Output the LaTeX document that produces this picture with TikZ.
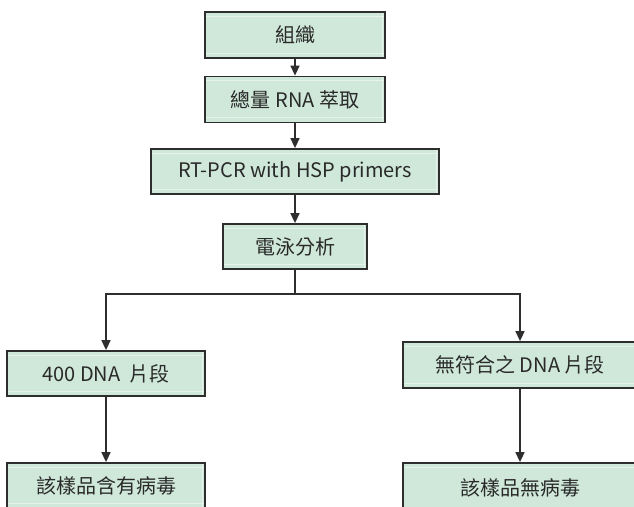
\documentclass[tikz,border=0pt]{standalone}
\usepackage{fontspec}
\setmainfont{Noto Sans CJK TC}
\usetikzlibrary{arrows.meta}
\definecolor{boxfill}{HTML}{CFE8DA}
\definecolor{boxline}{HTML}{2E2E2E}
\definecolor{hilite}{HTML}{E6F3EC}
\definecolor{txt}{HTML}{2A2A2A}
\tikzset{
  stepbox/.style={draw=boxline, fill=boxfill, line width=1.8pt, inner sep=0pt,
    text=txt, font=\fontsize{20}{23}\selectfont,
    path picture={
      \draw[hilite, line width=1pt]
        ([yshift=-4pt]path picture bounding box.north west) -- ([yshift=-4pt]path picture bounding box.north east);
      \draw[hilite, line width=1pt]
        ([yshift=5pt]path picture bounding box.south west) -- ([yshift=5pt]path picture bounding box.south east);
      \draw[hilite, line width=1pt]
        ([xshift=-3pt]path picture bounding box.north east) -- ([xshift=-3pt]path picture bounding box.south east);
    }},
  conn/.style={draw=boxline, line width=1.5pt},
  arr/.style={conn, -{Triangle[width=9pt,length=10pt]}}
}
\begin{document}
\begin{tikzpicture}[x=1pt,y=-1pt]
\useasboundingbox (0,0) rectangle (634,506);
\fill[white] (0,0) rectangle (634,506);
\node[stepbox, minimum width=180pt, minimum height=46pt] (n1) at (295,35) {組織};
\node[stepbox, minimum width=180pt, minimum height=46pt] (n2) at (295,99.5) {總量 RNA 萃取};
\node[stepbox, minimum width=288pt, minimum height=45pt] (n3) at (295,171.5) {RT-PCR with HSP primers};
\node[stepbox, minimum width=144pt, minimum height=45pt] (n4) at (295,246.5) {電泳分析};
\coordinate (j) at (295,294);
\node[stepbox, minimum width=198pt, minimum height=45pt] (n5) at (106,373.5) {400 DNA\ \ 片段};
\node[stepbox, minimum width=234pt, minimum height=46pt] (n6) at (520,365) {無符合之 DNA 片段};
\node[stepbox, minimum width=198pt, minimum height=45pt] (n7) at (106,485.5) {該樣品含有病毒};
\node[stepbox, minimum width=234pt, minimum height=50pt] (n8) at (520,488) {該樣品無病毒};
\draw[arr] (n1) -- (n2);
\draw[arr] (n2) -- (n3);
\draw[arr] (n3) -- (n4);
\draw[conn] (n4) -- (j);
\draw[arr] (j) -| (n5);
\draw[arr] (j) -| (n6);
\draw[arr] (n5) -- (n7);
\draw[arr] (n6) -- (n8);
\end{tikzpicture}
\end{document}
